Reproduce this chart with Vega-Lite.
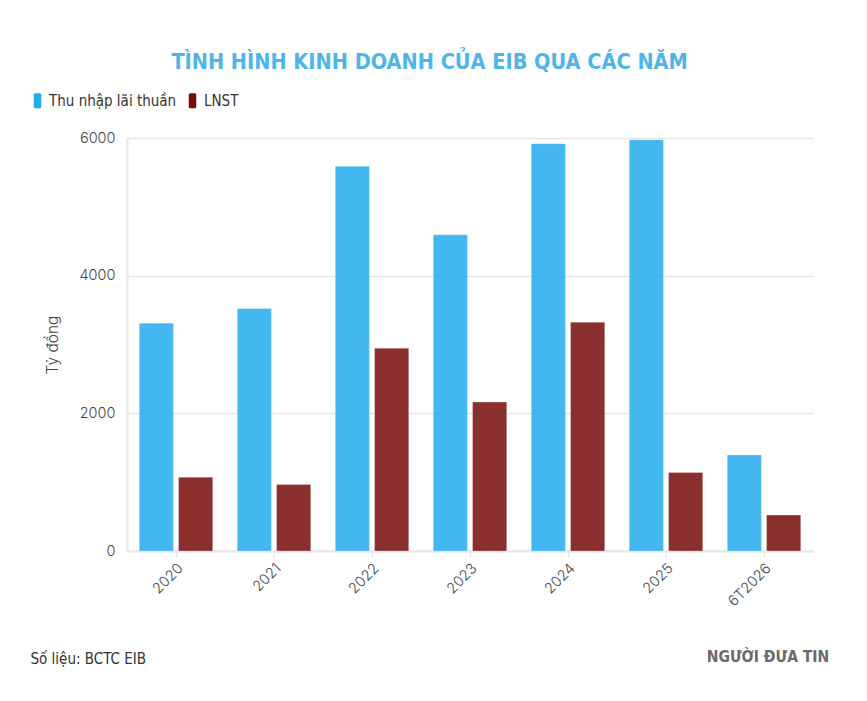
{
  "$schema": "https://vega.github.io/schema/vega-lite/v6.json",
  "width": 686,
  "height": 413,
  "autosize": "none",
  "padding": {"left": 127, "top": 138, "right": 54, "bottom": 150},
  "background": "white",
  "title": {
    "text": "TÌNH HÌNH KINH DOANH CỦA EIB QUA CÁC NĂM",
    "font": "'DejaVu Sans Condensed', 'Liberation Sans Narrow', Roboto, sans-serif",
    "fontSize": 21.5,
    "fontWeight": "bold",
    "color": "#4cb6ec",
    "anchor": "middle",
    "frame": "bounds",
    "offset": 20
  },
  "data": {
    "values": [
      {"nam": "2020", "chi_tieu": "Thu nhập lãi thuần", "gia_tri": 3309},
      {"nam": "2020", "chi_tieu": "LNST", "gia_tri": 1072},
      {"nam": "2021", "chi_tieu": "Thu nhập lãi thuần", "gia_tri": 3522},
      {"nam": "2021", "chi_tieu": "LNST", "gia_tri": 966},
      {"nam": "2022", "chi_tieu": "Thu nhập lãi thuần", "gia_tri": 5590},
      {"nam": "2022", "chi_tieu": "LNST", "gia_tri": 2947},
      {"nam": "2023", "chi_tieu": "Thu nhập lãi thuần", "gia_tri": 4594},
      {"nam": "2023", "chi_tieu": "LNST", "gia_tri": 2164},
      {"nam": "2024", "chi_tieu": "Thu nhập lãi thuần", "gia_tri": 5918},
      {"nam": "2024", "chi_tieu": "LNST", "gia_tri": 3324},
      {"nam": "2025", "chi_tieu": "Thu nhập lãi thuần", "gia_tri": 5976},
      {"nam": "2025", "chi_tieu": "LNST", "gia_tri": 1140},
      {"nam": "6T2026", "chi_tieu": "Thu nhập lãi thuần", "gia_tri": 1396},
      {"nam": "6T2026", "chi_tieu": "LNST", "gia_tri": 522}
    ]
  },
  "layer": [
    {
      "mark": {"type": "bar", "opacity": 0.85, "stroke": "white", "strokeWidth": 0.6, "strokeOpacity": 0.5},
      "encoding": {
        "x": {
          "field": "nam",
          "type": "nominal",
          "sort": null,
          "scale": {"paddingInner": 0.25, "paddingOuter": 0.125},
          "axis": {
            "title": "Số liệu: BCTC EIB",
            "titleFont": "'DejaVu Sans Condensed', 'Liberation Sans Narrow', Roboto, sans-serif",
            "titleFontSize": 15,
            "titleFontWeight": "normal",
            "titleColor": "#333333",
            "titleAnchor": "start",
            "titleAlign": "left",
            "titleBaseline": "middle",
            "titleX": -97,
            "titleY": 107,
            "labelAngle": -45,
            "labelFont": "Inter",
            "labelFontSize": 14.5,
            "labelFontWeight": 300,
            "labelColor": "#444444",
            "labelPadding": 4,
            "domainColor": "#e6e6e6",
            "domainWidth": 2,
            "tickColor": "#e6e6e6",
            "tickWidth": 1.5,
            "tickSize": 6
          }
        },
        "xOffset": {
          "field": "chi_tieu",
          "type": "nominal",
          "sort": ["Thu nhập lãi thuần", "LNST"],
          "scale": {"paddingInner": 0.13, "paddingOuter": 0}
        },
        "y": {
          "field": "gia_tri",
          "type": "quantitative",
          "scale": {"domain": [0, 6000], "nice": false},
          "axis": {
            "title": "Tỷ đồng",
            "titleFont": "Inter",
            "titleFontSize": 15.5,
            "titleFontWeight": 300,
            "titleColor": "#444444",
            "titlePadding": 19,
            "values": [0, 2000, 4000, 6000],
            "format": "d",
            "labelFont": "Inter",
            "labelFontSize": 14.5,
            "labelFontWeight": 300,
            "labelColor": "#444444",
            "labelPadding": 12,
            "ticks": false,
            "domainColor": "#e6e6e6",
            "domainWidth": 2,
            "gridColor": "#e6e6e6",
            "gridWidth": 1.5
          }
        },
        "color": {
          "field": "chi_tieu",
          "type": "nominal",
          "sort": ["Thu nhập lãi thuần", "LNST"],
          "scale": {"domain": ["Thu nhập lãi thuần", "LNST"], "range": ["#24aaee", "#770a0a"]},
          "legend": {
            "title": null,
            "orient": "none",
            "direction": "horizontal",
            "legendX": -97,
            "legendY": -45,
            "symbolType": "M-0.3,-1 L0.3,-1 Q0.5,-1 0.5,-0.8 L0.5,0.8 Q0.5,1 0.3,1 L-0.3,1 Q-0.5,1 -0.5,0.8 L-0.5,-0.8 Q-0.5,-1 -0.3,-1 Z",
            "symbolSize": 225,
            "symbolOpacity": 1,
            "symbolStrokeWidth": 0,
            "labelFont": "'DejaVu Sans Condensed', 'Liberation Sans Narrow', Roboto, sans-serif",
            "labelFontSize": 15,
            "labelColor": "#333333",
            "labelOffset": 4,
            "columnPadding": 8
          }
        }
      }
    },
    {
      "data": {"values": [{"logo": "NGƯỜI ĐƯA TIN"}]},
      "mark": {"type": "text", "font": "'DejaVu Sans Condensed', 'Liberation Sans Narrow', Roboto, sans-serif", "fontSize": 15.5, "fontWeight": "bold", "color": "#6a6a6a", "dy": 106, "dx": 4, "baseline": "middle", "align": "center"},
      "encoding": {
        "text": {"field": "logo"},
        "x": {"datum": "6T2026"},
        "y": {"datum": 0}
      }
    }
  ],
  "config": {
    "view": {"stroke": null}
  }
}
